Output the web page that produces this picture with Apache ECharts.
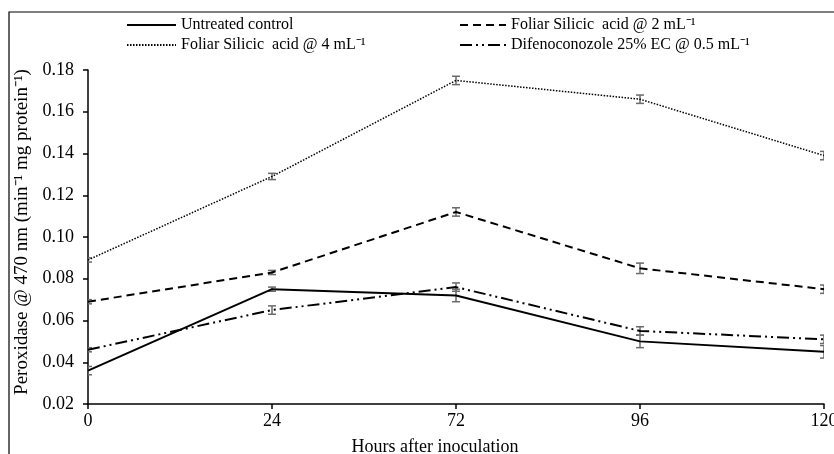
<!DOCTYPE html>
<html><head><meta charset="utf-8">
<script src="https://cdn.jsdelivr.net/npm/echarts@6/dist/echarts.min.js"></script>
<style>html,body{margin:0;padding:0;background:#fff}#c{width:834px;height:454px}</style>
</head><body><div id="c"></div>
<script>
const categories = ['0', '24', '72', '96', '120'];
const yTicks = [0.02, 0.04, 0.06, 0.08, 0.10, 0.12, 0.14, 0.16, 0.18];
const seriesNames = ['Untreated control', 'Foliar Silicic  acid @ 4 mL\u207B\u00B9', 'Foliar Silicic  acid @ 2 mL\u207B\u00B9', 'Difenoconozole 25% EC @ 0.5 mL\u207B\u00B9'];
const controlVals = [0.036, 0.075, 0.072, 0.050, 0.045];
const f4Vals = [0.089, 0.129, 0.175, 0.166, 0.139];
const f2Vals = [0.069, 0.083, 0.112, 0.085, 0.075];
const difVals = [0.046, 0.065, 0.076, 0.055, 0.051];
const controlErr = [0.002, 0.001, 0.003, 0.003, 0.003];
const f4Err = [0.001, 0.0015, 0.002, 0.002, 0.002];
const f2Err = [0.001, 0.001, 0.002, 0.0025, 0.002];
const difErr = [0.001, 0.002, 0.002, 0.002, 0.002];

const FONT = 'Liberation Serif';
const chart = echarts.init(document.getElementById('c'));

function errData(vals, errs) {
  return vals.map((v, i) => [i, v - errs[i], v + errs[i]]);
}
function errSeries(vals, errs) {
  return {
    type: 'custom', silent: true, clip: true, z: 1,
    data: errData(vals, errs),
    renderItem: function (params, api) {
      const lo = api.coord([api.value(0), api.value(1)]);
      const hi = api.coord([api.value(0), api.value(2)]);
      const w = 4;
      const st = { stroke: '#6a6a6a', lineWidth: 1.5, fill: 'none' };
      return { type: 'group', children: [
        { type: 'line', shape: { x1: lo[0], y1: lo[1], x2: hi[0], y2: hi[1] }, style: st },
        { type: 'line', shape: { x1: lo[0] - w, y1: lo[1], x2: lo[0] + w, y2: lo[1] }, style: st },
        { type: 'line', shape: { x1: hi[0] - w, y1: hi[1], x2: hi[0] + w, y2: hi[1] }, style: st }
      ]};
    }
  };
}
function lineSeries(name, vals, type, width) {
  return {
    name: name, type: 'line', data: vals, symbol: 'none', z: 3,
    lineStyle: { color: '#000', width: width, type: type },
    itemStyle: { color: '#000' }
  };
}

const legendCommon = {
  orient: 'vertical', top: 12, itemHeight: 12, itemGap: 4,
  itemStyle: { opacity: 0 },
  textStyle: { fontFamily: FONT, fontSize: 16, color: '#000' }
};

const option = {
  animation: false,
  backgroundColor: '#fff',
  textStyle: { fontFamily: FONT },
  graphic: [{ type: 'rect', shape: { x: 9, y: 12, width: 900, height: 520 }, style: { fill: 'none', stroke: '#000', lineWidth: 1.2 }, silent: true }],
  legend: [
    Object.assign({ data: [seriesNames[0], seriesNames[1]], left: 121, itemWidth: 49 }, legendCommon),
    Object.assign({ data: [seriesNames[2], seriesNames[3]], left: 454, itemWidth: 46 }, legendCommon)
  ],
  grid: { left: 88, right: 10, top: 70, bottom: 50, containLabel: false, outerBoundsMode: 'none' },
  xAxis: {
    type: 'category', data: categories, boundaryGap: false,
    axisLine: { lineStyle: { color: '#000', width: 1.5 } },
    axisTick: { show: true, length: 5, lineStyle: { color: '#000', width: 1.5 } },
    axisLabel: { color: '#000', fontSize: 18, fontFamily: FONT, margin: 8 },
    splitLine: { show: false },
    name: 'Hours after inoculation', nameLocation: 'middle', nameGap: 34,
    nameTextStyle: { color: '#000', fontSize: 18, fontFamily: FONT, padding: [0, 42, 0, 0] }
  },
  yAxis: {
    type: 'value', min: yTicks[0], max: yTicks[yTicks.length - 1], interval: 0.02,
    axisLine: { show: true, lineStyle: { color: '#000', width: 1.5 } },
    axisTick: { show: true, length: 5, lineStyle: { color: '#000', width: 1.5 } },
    axisLabel: { color: '#000', fontSize: 18, fontFamily: FONT, margin: 14, formatter: v => v.toFixed(2) },
    splitLine: { show: false },
    name: 'Peroxidase @ 470 nm (min\u207B\u00B9 mg protein\u207B\u00B9)', nameLocation: 'middle', nameGap: 51, nameRotate: 90,
    nameTextStyle: { color: '#000', fontSize: 19, fontFamily: FONT, padding: [0, 0, 0, 10] }
  },
  series: [
    lineSeries(seriesNames[0], controlVals, 'solid', 2),
    lineSeries(seriesNames[1], f4Vals, [1.5, 1.5], 1.5),
    lineSeries(seriesNames[2], f2Vals, [8, 5], 2),
    lineSeries(seriesNames[3], difVals, [12, 4, 2, 4, 2, 4], 2),
    errSeries(controlVals, controlErr),
    errSeries(f4Vals, f4Err),
    errSeries(f2Vals, f2Err),
    errSeries(difVals, difErr)
  ]
};
chart.setOption(option);
</script></body></html>
